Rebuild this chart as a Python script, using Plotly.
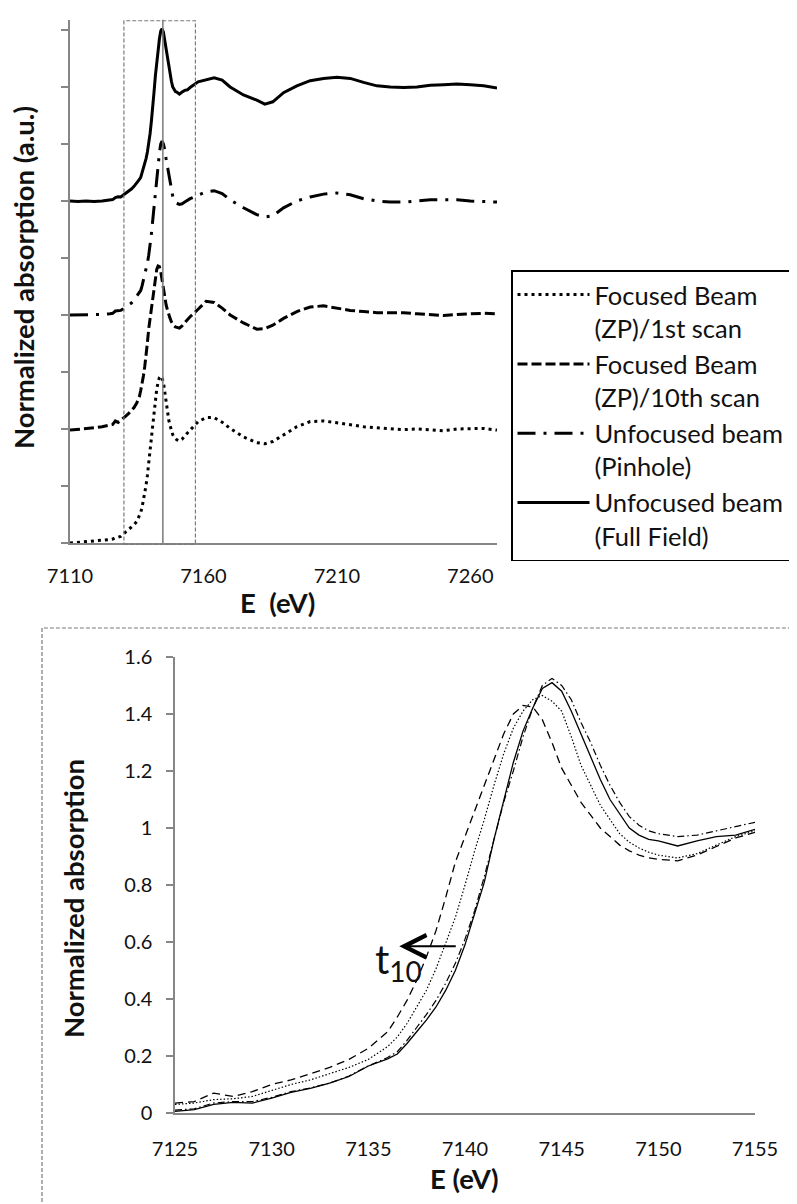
import plotly.graph_objects as go

# ---------------- data (normalized absorption) ----------------
ENERGY = [7110, 7113, 7116, 7119, 7122,
          7125, 7126, 7127, 7128, 7129, 7130, 7131, 7132, 7133, 7134, 7135, 7136,
          7136.5, 7137, 7137.5, 7138, 7138.5, 7139, 7139.5, 7140, 7140.5, 7141, 7141.5,
          7142, 7142.5, 7143, 7143.5, 7144, 7144.5, 7145, 7145.5, 7146, 7146.5, 7147,
          7147.5, 7148, 7148.5, 7149, 7149.5, 7150,
          7151, 7152, 7153, 7154, 7155,
          7158, 7161, 7164, 7167, 7170, 7175, 7180, 7183, 7186, 7190, 7195, 7200, 7205,
          7210, 7215, 7220, 7225, 7230, 7235, 7240, 7245, 7250, 7255, 7260, 7265, 7270]

SCAN_1ST = [0.0, 0.005, 0.01, 0.015, 0.02,
            0.03, 0.035, 0.047, 0.05, 0.058, 0.08, 0.10, 0.116, 0.137, 0.16, 0.188, 0.233,
            0.267, 0.314, 0.372, 0.43, 0.506, 0.593, 0.686, 0.80, 0.92, 1.03, 1.15,
            1.26, 1.35, 1.41, 1.45, 1.465, 1.445, 1.41, 1.32, 1.22, 1.15, 1.08,
            1.03, 0.98, 0.95, 0.93, 0.915, 0.905,
            0.895, 0.91, 0.94, 0.97, 0.99,
            1.064, 1.10, 1.10, 1.06, 1.005, 0.93, 0.88, 0.87, 0.89, 0.95, 1.02, 1.065, 1.07,
            1.055, 1.035, 1.02, 1.01, 1.0, 0.995, 1.0, 0.995, 0.985, 1.0, 1.005, 1.005, 0.99]

SCAN_10TH = [-0.01, -0.005, 0.0, 0.01, 0.02,
             0.035, 0.04, 0.07, 0.058, 0.075, 0.10, 0.116, 0.137, 0.16, 0.188, 0.227, 0.285,
             0.337, 0.395, 0.465, 0.547, 0.64, 0.756, 0.88, 0.97, 1.06, 1.15, 1.24,
             1.33, 1.40, 1.43, 1.425, 1.38, 1.30, 1.21, 1.15, 1.09, 1.045, 1.00,
             0.97, 0.94, 0.92, 0.905, 0.895, 0.89,
             0.885, 0.905, 0.935, 0.965, 0.985,
             1.05, 1.12, 1.11, 1.06, 1.0, 0.93, 0.875, 0.88, 0.91, 0.97, 1.03, 1.07, 1.08,
             1.06, 1.04, 1.03, 1.02, 1.02, 1.02, 1.01, 1.0, 0.995, 1.005, 1.01, 1.015, 1.01]

PINHOLE = [0.0, 0.0, 0.005, 0.0, 0.005,
           0.01, 0.015, 0.035, 0.04, 0.04, 0.055, 0.075, 0.088, 0.105, 0.13, 0.165, 0.195,
           0.215, 0.255, 0.30, 0.345, 0.395, 0.455, 0.525, 0.61, 0.71, 0.83, 0.96,
           1.09, 1.20, 1.32, 1.42, 1.50, 1.525, 1.50, 1.45, 1.37, 1.30, 1.22,
           1.15, 1.09, 1.04, 1.01, 0.99, 0.98,
           0.97, 0.975, 0.99, 1.005, 1.02,
           1.05, 1.08, 1.09, 1.065, 1.01, 0.94, 0.88, 0.86, 0.87, 0.94, 1.0, 1.035, 1.06,
           1.07, 1.055, 1.02, 1.0, 0.99, 0.99, 1.0, 1.01, 1.01, 1.01, 1.0, 0.995, 0.99]

FULL_FIELD = [0.0, -0.005, 0.0, -0.005, 0.0,
              0.006, 0.012, 0.03, 0.037, 0.035, 0.052, 0.072, 0.086, 0.105, 0.128, 0.165, 0.19,
              0.207, 0.244, 0.285, 0.326, 0.372, 0.43, 0.50, 0.59, 0.70, 0.81, 0.96,
              1.10, 1.23, 1.34, 1.42, 1.49, 1.51, 1.48, 1.41, 1.33, 1.25, 1.17,
              1.10, 1.05, 1.0, 0.975, 0.96, 0.955,
              0.937, 0.955, 0.97, 0.975, 0.995,
              1.045, 1.06, 1.08, 1.06, 1.0, 0.93, 0.885, 0.85, 0.87, 0.95, 1.01, 1.055, 1.075,
              1.085, 1.075, 1.04, 1.01, 1.0, 0.995, 1.0, 1.015, 1.02, 1.025, 1.02, 1.01, 0.99]

SERIES_NAMES = ["Focused Beam<br>(ZP)/1st scan",
                "Focused Beam<br>(ZP)/10th scan",
                "Unfocused beam<br>(Pinhole)",
                "Unfocused beam<br>(Full Field)"]
SERIES_VALUES = [SCAN_1ST, SCAN_10TH, PINHOLE, FULL_FIELD]
STACK_OFFSETS = [0, 2, 4, 6]     # vertical offsets of the stacked overview
STACK_SCALE = 2                  # overview units per normalized unit

TOP_X_TICKS = [7110, 7160, 7210, 7260]
TOP_Y_TICKS = [0, 1, 2, 3, 4, 5, 6, 7, 8, 9]
BOTTOM_X_TICKS = [7125, 7130, 7135, 7140, 7145, 7150, 7155]
BOTTOM_Y_TICKS = [0, 0.2, 0.4, 0.6, 0.8, 1, 1.2, 1.4, 1.6]

EDGE_MARK = 7144.8               # vertical marker line in overview
ZOOM_WINDOW = (7130.2, 7157.0)   # dashed box in overview
ZOOM_RANGE = (7125, 7155)
ARROW_FROM = (7139.6, 0.585)
ARROW_TO = (7136.6, 0.585)
LABEL_POS = (7136.55, 0.53)

# ---------------- styling ----------------
W, H = 797, 1204
PAGE_OFFSET = 8                  # default page margin around the figure
FONT = "Lato"
AXIS_GRAY = "#868686"
TEXT = "#111111"

TOP_STYLES = [dict(width=3, dash="3px,4px"),
              dict(width=3, dash="10px,4px"),
              dict(width=3, dash="18px,8px,3px,8px"),
              dict(width=3, dash="solid")]
BOTTOM_STYLES = [dict(width=1.2, dash="1.5px,2px"),
                 dict(width=1.3, dash="8px,5px"),
                 dict(width=1.2, dash="7px,3px,1.5px,3px"),
                 dict(width=1.3, dash="solid")]


def px_x(p):
    return (p - PAGE_OFFSET) / W


def px_y(p):
    return 1 - (p - PAGE_OFFSET) / H


fig = go.Figure()

for name, vals, off, st in zip(SERIES_NAMES, SERIES_VALUES, STACK_OFFSETS, TOP_STYLES):
    fig.add_trace(go.Scatter(
        x=ENERGY, y=[v * STACK_SCALE + off for v in vals],
        mode="lines", name=name,
        line=dict(color="black", **st),
        xaxis="x", yaxis="y", showlegend=True))

for name, vals, st in zip(SERIES_NAMES, SERIES_VALUES, BOTTOM_STYLES):
    xs = [e for e in ENERGY if ZOOM_RANGE[0] <= e <= ZOOM_RANGE[1]]
    ys = [v for e, v in zip(ENERGY, vals) if ZOOM_RANGE[0] <= e <= ZOOM_RANGE[1]]
    fig.add_trace(go.Scatter(
        x=xs, y=ys, mode="lines", name=name,
        line=dict(color="black", **st),
        xaxis="x2", yaxis="y2", showlegend=False))

tickfont = dict(family=FONT, size=20, color=TEXT)

fig.update_layout(
    width=W, height=H,
    margin=dict(l=0, r=0, t=0, b=0, autoexpand=False),
    paper_bgcolor="white", plot_bgcolor="white",
    font=dict(family=FONT, color=TEXT),
    xaxis=dict(domain=[px_x(70), px_x(497)], range=[7110, 7270], anchor="y",
               tickvals=TOP_X_TICKS, ticks="", showgrid=False, zeroline=False,
               showline=True, linecolor=AXIS_GRAY, linewidth=1.5, automargin=False,
               tickfont=tickfont, ticklabelstandoff=14),
    yaxis=dict(domain=[px_y(543), px_y(19.7)], range=[0, 9.18], anchor="x",
               tickvals=TOP_Y_TICKS, ticks="outside", ticklen=7, tickcolor=AXIS_GRAY,
               tickwidth=1.5, showticklabels=False, showgrid=False, zeroline=False,
               showline=True, linecolor=AXIS_GRAY, linewidth=1.5, automargin=False),
    xaxis2=dict(domain=[px_x(175), px_x(755)], range=list(ZOOM_RANGE), anchor="y2",
                tickvals=BOTTOM_X_TICKS, ticks="", showgrid=False, zeroline=False,
                showline=True, linecolor=AXIS_GRAY, linewidth=1.5, automargin=False,
                tickfont=tickfont, ticklabelstandoff=17),
    yaxis2=dict(domain=[px_y(1113), px_y(657)], range=[0, 1.6], anchor="x2",
                tickvals=BOTTOM_Y_TICKS, ticks="outside", ticklen=7, tickcolor=AXIS_GRAY,
                tickwidth=1.5, showgrid=False, zeroline=False, automargin=False,
                showline=True, linecolor=AXIS_GRAY, linewidth=1.5,
                tickfont=tickfont, ticklabelstandoff=10),
    legend=dict(x=px_x(511), y=px_y(270), xanchor="left", yanchor="top",
                bordercolor="black", borderwidth=1.5, bgcolor="white",
                font=dict(family=FONT, size=25.5, color=TEXT),
                valign="top", tracegroupgap=0, itemwidth=72),
    showlegend=True,
)

shapes = [
    dict(type="line", xref="x", yref="y domain", x0=EDGE_MARK, x1=EDGE_MARK, y0=0, y1=1,
         line=dict(color="#7a7a7a", width=1.5)),
    dict(type="rect", xref="x", yref="y domain", x0=ZOOM_WINDOW[0], x1=ZOOM_WINDOW[1],
         y0=-0.002, y1=0.998, line=dict(color="#7a7a7a", width=1.2, dash="4px,2px")),
    dict(type="rect", xref="paper", yref="paper", x0=px_x(42), x1=1.05, y0=-0.05, y1=px_y(628),
         line=dict(color="#7a7a7a", width=1.2, dash="4px,2px")),
]
fig.update_layout(shapes=shapes)

title_font = dict(family=FONT, size=27.5, color=TEXT)
annotations = [
    dict(text="<b>Normalized absorption (a.u.)</b>", xref="paper", yref="paper",
         x=px_x(24), y=px_y(278), textangle=-90, showarrow=False, font=title_font,
         xanchor="center", yanchor="middle"),
    dict(text="<b>E\u00a0 (eV)</b>", xref="paper", yref="paper",
         x=px_x(277), y=px_y(602), showarrow=False, font=title_font,
         xanchor="center", yanchor="middle"),
    dict(text="<b>Normalized absorption</b>", xref="paper", yref="paper",
         x=px_x(73), y=px_y(899), textangle=-90, showarrow=False, font=title_font,
         xanchor="center", yanchor="middle"),
    dict(text="<b>E (eV)</b>", xref="paper", yref="paper",
         x=px_x(464), y=px_y(1178), showarrow=False, font=title_font,
         xanchor="center", yanchor="middle"),
    dict(text="t<sub>10</sub>", xref="x2", yref="y2", x=LABEL_POS[0], y=LABEL_POS[1],
         showarrow=False, font=dict(family=FONT, size=40, color=TEXT),
         xanchor="center", yanchor="middle"),
    dict(text="", xref="x2", yref="y2", x=ARROW_TO[0], y=ARROW_TO[1],
         axref="x2", ayref="y2", ax=ARROW_FROM[0], ay=ARROW_FROM[1],
         showarrow=True, arrowhead=5, arrowsize=2.2, arrowwidth=2, arrowcolor="black",
         standoff=0, startstandoff=0),
]
fig.update_layout(annotations=annotations)

fig.write_html("out.html")
